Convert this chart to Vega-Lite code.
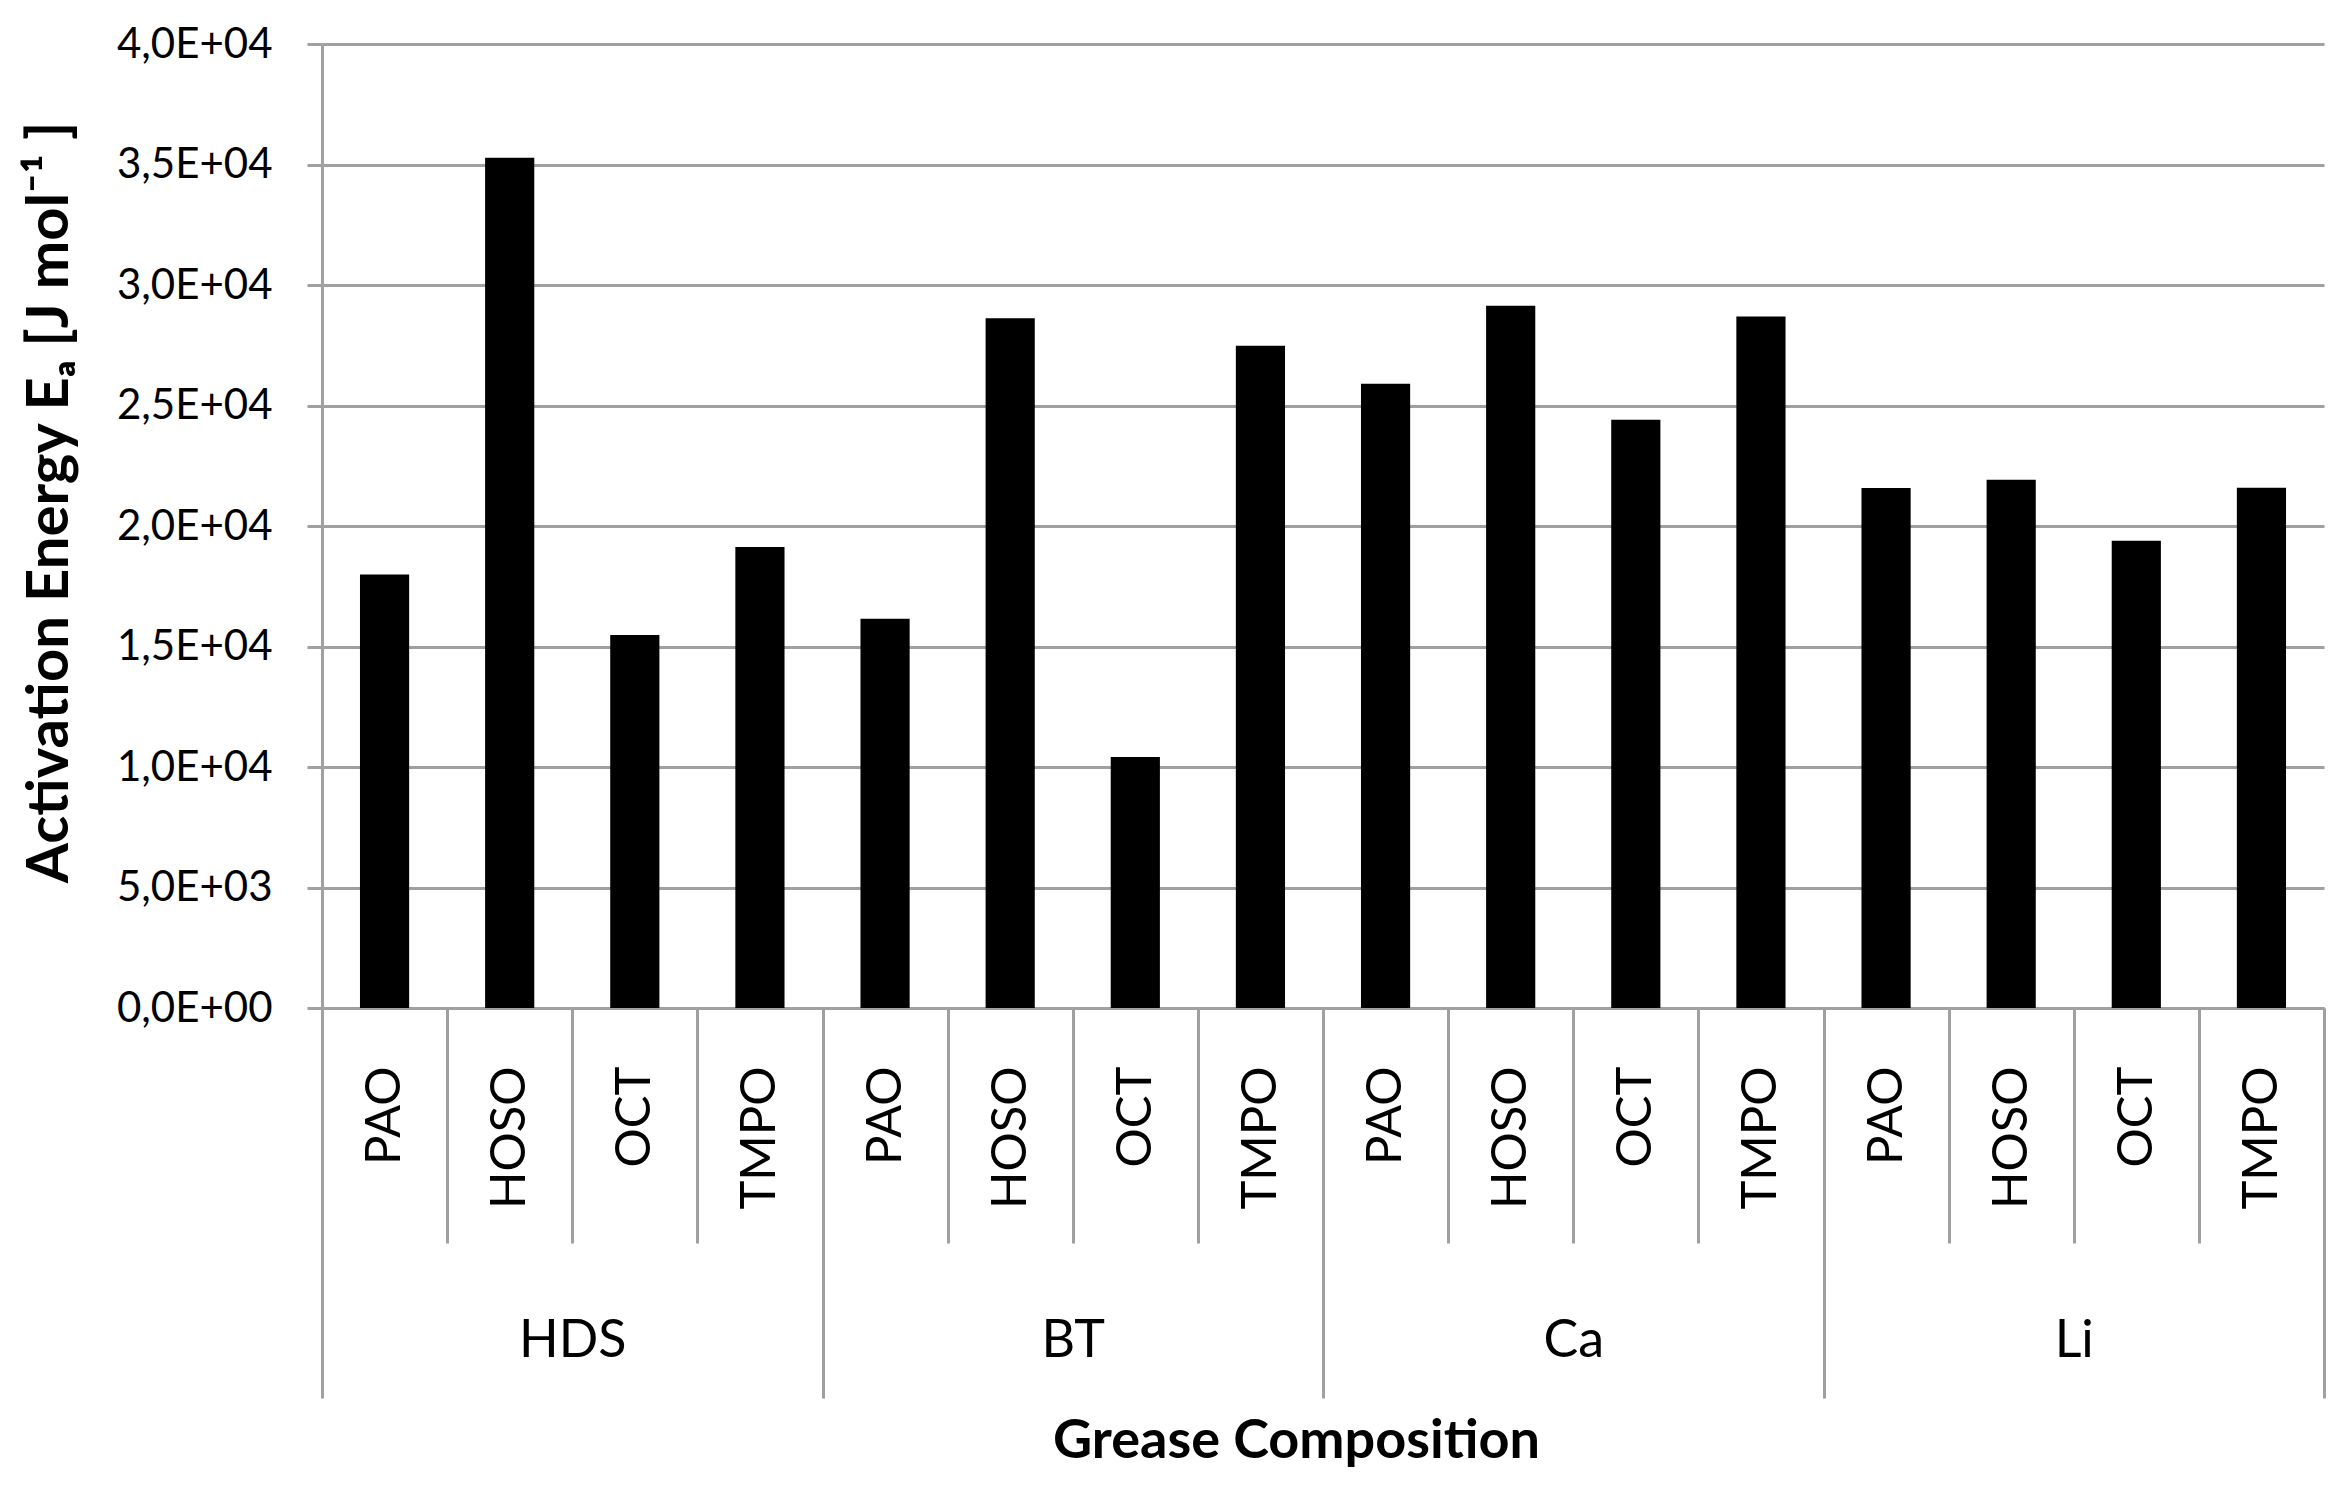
{
  "$schema": "https://vega.github.io/schema/vega-lite/v6.json",
  "width": 2002,
  "height": 964,
  "autosize": {"type": "none"},
  "padding": {"left": 322, "top": 44, "right": 26, "bottom": 480},
  "background": "white",
  "config": {
    "view": {"stroke": null},
    "font": "Lato",
    "axis": {"labelColor": "#000000", "titleColor": "#000000", "labelFont": "Lato", "titleFont": "Lato"}
  },
  "data": {
    "values": [
      {"grp": "HDS", "oil": "PAO", "cat": "HDS|PAO", "Ea": 17990},
      {"grp": "HDS", "oil": "HOSO", "cat": "HDS|HOSO", "Ea": 35280},
      {"grp": "HDS", "oil": "OCT", "cat": "HDS|OCT", "Ea": 15480},
      {"grp": "HDS", "oil": "TMPO", "cat": "HDS|TMPO", "Ea": 19130},
      {"grp": "BT", "oil": "PAO", "cat": "BT|PAO", "Ea": 16150},
      {"grp": "BT", "oil": "HOSO", "cat": "BT|HOSO", "Ea": 28620},
      {"grp": "BT", "oil": "OCT", "cat": "BT|OCT", "Ea": 10410},
      {"grp": "BT", "oil": "TMPO", "cat": "BT|TMPO", "Ea": 27480},
      {"grp": "Ca", "oil": "PAO", "cat": "Ca|PAO", "Ea": 25900},
      {"grp": "Ca", "oil": "HOSO", "cat": "Ca|HOSO", "Ea": 29140},
      {"grp": "Ca", "oil": "OCT", "cat": "Ca|OCT", "Ea": 24410},
      {"grp": "Ca", "oil": "TMPO", "cat": "Ca|TMPO", "Ea": 28690},
      {"grp": "Li", "oil": "PAO", "cat": "Li|PAO", "Ea": 21580},
      {"grp": "Li", "oil": "HOSO", "cat": "Li|HOSO", "Ea": 21920},
      {"grp": "Li", "oil": "OCT", "cat": "Li|OCT", "Ea": 19390},
      {"grp": "Li", "oil": "TMPO", "cat": "Li|TMPO", "Ea": 21590}
    ]
  },
  "layer": [
    {
      "mark": {"type": "bar", "color": "#000000", "width": {"band": 0.393}},
      "encoding": {
        "x": {
          "field": "cat",
          "type": "nominal",
          "sort": null,
          "scale": {"paddingInner": 0, "paddingOuter": 0},
          "axis": {
            "orient": "bottom",
            "title": null,
            "tickBand": "extent",
            "tickSize": 235,
            "tickWidth": 3,
            "tickColor": "#a0a0a0",
            "domainColor": "#a0a0a0",
            "domainWidth": 3,
            "labelAngle": -90,
            "labelAlign": "right",
            "labelBaseline": "middle",
            "labelPadding": -177,
            "labelFontSize": 49,
            "labelOverlap": false,
            "labelExpr": "isString(datum.value) ? slice(datum.value, indexof(datum.value, '|') + 1) : ''",
            "grid": false
          }
        },
        "y": {
          "field": "Ea",
          "type": "quantitative",
          "scale": {"domain": [0, 40000], "nice": false},
          "axis": {
            "title": "Activation Energy Eₐ [J mol⁻¹ ]",
            "titleFontSize": 58,
            "titleFontWeight": "bold",
            "titleX": -272,
            "titleY": 458,
            "titleAlign": "center",
            "titleBaseline": "middle",
            "titleAngle": -90,
            "values": [0, 5000, 10000, 15000, 20000, 25000, 30000, 35000, 40000],
            "labelExpr": "datum.value == 0 ? '0,0E+00' : datum.value < 10000 ? replace(format(datum.value / 1000, '.1f'), '.', ',') + 'E+03' : replace(format(datum.value / 10000, '.1f'), '.', ',') + 'E+04'",
            "labelFontSize": 42,
            "labelPadding": 35,
            "tickSize": 15,
            "tickWidth": 3,
            "tickColor": "#a0a0a0",
            "domainColor": "#a0a0a0",
            "domainWidth": 3,
            "gridColor": "#a0a0a0",
            "gridWidth": 3,
            "grid": true
          }
        }
      }
    },
    {
      "mark": {"type": "rule", "opacity": 0},
      "encoding": {
        "x": {
          "field": "grp",
          "type": "nominal",
          "sort": ["HDS", "BT", "Ca", "Li"],
          "scale": {"type": "band", "paddingInner": 0, "paddingOuter": 0},
          "axis": {
            "orient": "bottom",
            "title": "Grease Composition",
            "titleFontSize": 54,
            "titleFontWeight": "bold",
            "titleX": 974,
            "titleY": 406,
            "titleAlign": "center",
            "titleBaseline": "top",
            "tickBand": "extent",
            "tickSize": 390,
            "tickWidth": 3,
            "tickColor": "#a0a0a0",
            "domain": false,
            "labelAngle": 0,
            "labelFontSize": 52,
            "labelPadding": -83,
            "labelOverlap": false,
            "grid": false
          }
        }
      }
    }
  ],
  "resolve": {"scale": {"x": "independent"}, "axis": {"x": "independent"}}
}
